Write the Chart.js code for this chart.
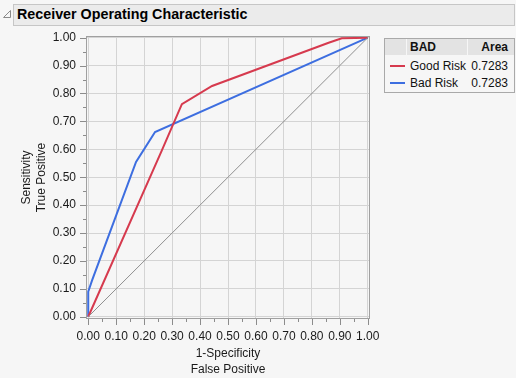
<!DOCTYPE html>
<html>
<head>
<meta charset="utf-8">
<script src="https://cdn.jsdelivr.net/npm/chart.js@4"></script>
<style>
  body { margin: 0; background: #f6f6f6; font-family: "Liberation Sans", Arial, sans-serif; }
  #wrap { position: absolute; left: 0; top: 0; width: 516px; height: 378px; }
  #bar { position: absolute; left: 13px; top: 4px; width: 500px; height: 20px; background: #ebebeb; border: 1px solid #c6c6c6; }
  #bar span { position: absolute; left: 3px; top: -1px; font-size: 14.3px; font-weight: bold; color: #000; line-height: 21px; }
  #tri { position: absolute; left: 2px; top: 9px; }
  #legend { position: absolute; left: 384px; top: 38px; width: 129px; height: 53px; border: 1px solid #a9a9a9; background: #f6f6f6; font-size: 12px; color: #111; }
  #legend div { position: absolute; line-height: 16px; white-space: nowrap; }
  .hd { background: #e3e3e3; top: 0; height: 16px; }
  .sw { height: 2px; width: 15px; left: 5px; }
</style>
</head>
<body>
<div id="wrap"><canvas id="roc"></canvas></div>
<svg id="tri" width="10" height="10"><polygon points="8.5,1.5 8.5,8.5 1.5,8.5" fill="none" stroke="#8a8a8a" stroke-width="1"/></svg>
<div id="bar"><span>Receiver Operating Characteristic</span></div>
<div id="legend">
  <div class="hd" style="left:0;width:21px"></div>
  <div class="hd" style="left:22px;width:60px;font-weight:bold;padding-left:3px;box-sizing:border-box">BAD</div>
  <div class="hd" style="left:83px;width:46px;font-weight:bold;text-align:right;padding-right:6px;box-sizing:border-box">Area</div>
  <div class="sw" style="top:26px;background:#d63a4e"></div>
  <div style="left:25px;top:19px">Good Risk</div>
  <div style="right:6px;top:19px">0.7283</div>
  <div class="sw" style="top:43px;background:#3d6ee0"></div>
  <div style="left:25px;top:36px">Bad Risk</div>
  <div style="right:6px;top:36px">0.7283</div>
</div>
<script>
const goodX = [0, 0.263, 0.335, 0.443, 0.86, 0.907, 1];
const goodY = [0, 0.595, 0.762, 0.827, 0.982, 0.998, 1];
const badX = [0, 0, 0.014, 0.171, 0.239, 1];
const badY = [0, 0.09, 0.131, 0.555, 0.662, 1];
const refX = [0, 1];
const refY = [0, 1];
const tickVals = [0, 0.1, 0.2, 0.3, 0.4, 0.5, 0.6, 0.7, 0.8, 0.9, 1];

const pts = (xs, ys) => xs.map((x, i) => ({ x: x, y: ys[i] }));

// tick marks (major + minor) drawn by hand, JMP style
const tickMarks = {
  id: 'tickMarks',
  afterDraw(chart) {
    const { ctx, chartArea: a, scales: { x, y } } = chart;
    ctx.save();
    ctx.strokeStyle = '#8c8c8c';
    ctx.lineWidth = 1;
    ctx.beginPath();
    for (let i = 0; i <= 20; i++) {
      const v = i / 20;
      const len = i % 2 === 0 ? 6 : 3;
      const px = Math.round(x.getPixelForValue(v)) + 0.5;
      ctx.moveTo(px, a.bottom);
      ctx.lineTo(px, a.bottom + len);
      const py = Math.round(y.getPixelForValue(v)) + 0.5;
      ctx.moveTo(a.left, py);
      ctx.lineTo(a.left - len, py);
    }
    ctx.stroke();
    ctx.strokeStyle = '#a0a0a0';
    ctx.strokeRect(a.left + 0.5, a.top + 0.5, a.right - a.left - 1, a.bottom - a.top - 1);
    ctx.restore();
  }
};

const labelFont = { family: 'Liberation Sans', size: 12 };

new Chart(document.getElementById('roc'), {
  type: 'scatter',
  data: {
    datasets: [
      { label: 'ref', data: pts(refX, refY), showLine: true, borderColor: '#8f8f8f', borderWidth: 1, pointRadius: 0 },
      { label: 'Good Risk', data: pts(goodX, goodY), showLine: true, borderColor: '#d63a4e', borderWidth: 2, pointRadius: 0 },
      { label: 'Bad Risk', data: pts(badX, badY), showLine: true, borderColor: '#3d6ee0', borderWidth: 2, pointRadius: 0 }
    ]
  },
  options: {
    responsive: true,
    maintainAspectRatio: false,
    animation: false,
    layout: { padding: { left: 0, top: 36, right: 146, bottom: 0 } },
    plugins: { legend: { display: false }, tooltip: { enabled: false } },
    scales: {
      x: {
        min: -0.008, max: 1.008,
        afterBuildTicks: s => { s.ticks = tickVals.map(v => ({ value: v })); },
        afterFit: s => { s.height = 59; },
        grid: { color: '#d4d4d4', drawTicks: false },
        border: { display: false },
        ticks: { padding: 10, color: '#1a1a1a', font: labelFont, maxRotation: 0, callback: v => v.toFixed(2) },
        title: { display: true, text: ['1-Specificity', 'False Positive'], color: '#1a1a1a', font: { family: 'Liberation Sans', size: 12, lineHeight: '16.5px' }, padding: { top: 0, bottom: 0 } }
      },
      y: {
        min: -0.008, max: 1.006,
        afterBuildTicks: s => { s.ticks = tickVals.map(v => ({ value: v })); },
        afterFit: s => { s.width = 86; },
        grid: { color: '#d4d4d4', drawTicks: false },
        border: { display: false },
        ticks: { padding: 10, color: '#1a1a1a', font: labelFont, callback: v => v.toFixed(2) },
        title: { display: true, text: ['Sensitivity', 'True Positive'], color: '#1a1a1a', font: { family: 'Liberation Sans', size: 12, lineHeight: '15px' }, padding: { top: 19, bottom: 0 } }
      }
    }
  },
  plugins: [tickMarks]
});
</script>
</body>
</html>
